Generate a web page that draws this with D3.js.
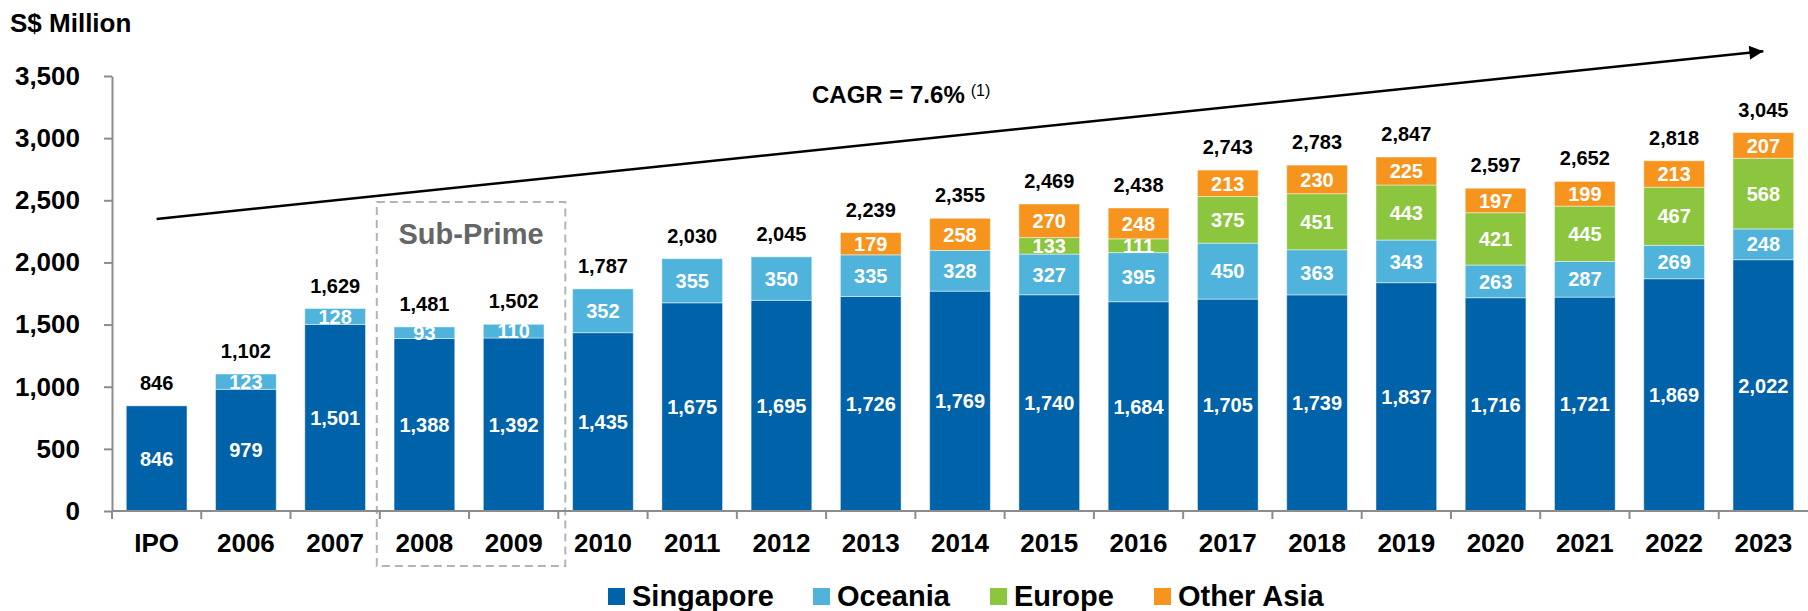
<!DOCTYPE html>
<html>
<head>
<meta charset="utf-8">
<script src="https://cdn.jsdelivr.net/npm/d3@7"></script>
<style>
  body { margin: 0; background: #fff; }
  svg { display: block; font-family: "Liberation Sans", Arial, sans-serif; font-weight: bold; }
</style>
</head>
<body>
<div id="chart"></div>
<script>
// data
var categories = ["IPO", "2006", "2007", "2008", "2009", "2010", "2011", "2012", "2013", "2014",
    "2015", "2016", "2017", "2018", "2019", "2020", "2021", "2022", "2023"];
var singapore = [846, 979, 1501, 1388, 1392, 1435, 1675, 1695, 1726, 1769, 1740, 1684, 1705, 1739, 1837, 1716, 1721, 1869, 2022];
var oceania = [0, 123, 128, 93, 110, 352, 355, 350, 335, 328, 327, 395, 450, 363, 343, 263, 287, 269, 248];
var europe = [0, 0, 0, 0, 0, 0, 0, 0, 0, 0, 133, 111, 375, 451, 443, 421, 445, 467, 568];
var otherAsia = [0, 0, 0, 0, 0, 0, 0, 0, 179, 258, 270, 248, 213, 230, 225, 197, 199, 213, 207];
var totals = [846, 1102, 1629, 1481, 1502, 1787, 2030, 2045, 2239, 2355, 2469, 2438, 2743, 2783, 2847, 2597, 2652, 2818, 3045];
var yTicks = [0, 500, 1000, 1500, 2000, 2500, 3000, 3500];
var seriesNames = ["Singapore", "Oceania", "Europe", "Other Asia"];
var subPrime = ["2008", "2009"];
var cagrText = "CAGR = 7.6%";
var cagrNote = "(1)";

var colors = ["#0062a8", "#4fb3dc", "#8cc63f", "#f7941d"];

var W = 1808, H = 611;
var margin = { top: 76, right: 0, bottom: 100, left: 112 };

var svg = d3.select("#chart").append("svg")
    .attr("width", W)
    .attr("height", H);

var x = d3.scaleBand()
    .domain(categories)
    .range([margin.left, W - margin.right])
    .paddingInner(0.32)
    .paddingOuter(0.16);

var y = d3.scaleLinear()
    .domain([0, 3500])
    .range([H - margin.bottom, margin.top]);

var fmt = d3.format(",");

var rows = categories.map(function (c, i) {
    return { cat: c, Singapore: singapore[i], Oceania: oceania[i], Europe: europe[i], "Other Asia": otherAsia[i], total: totals[i] };
});
var stack = d3.stack().keys(seriesNames)(rows);

// sub-prime box, behind the bars
var boxX0 = x(subPrime[0]) - x.step() * x.paddingInner() / 2 - 3;
var boxX1 = x(subPrime[1]) + x.bandwidth() + x.step() * x.paddingInner() / 2 + 7;
svg.append("rect")
    .attr("x", boxX0)
    .attr("y", 202)
    .attr("width", boxX1 - boxX0)
    .attr("height", 364)
    .attr("fill", "none")
    .attr("stroke", "#b4b4b4")
    .attr("stroke-width", 2)
    .attr("stroke-dasharray", "8,5");

svg.append("text")
    .attr("x", (boxX0 + boxX1) / 2)
    .attr("y", 244)
    .attr("text-anchor", "middle")
    .attr("font-size", 29)
    .attr("fill", "#666")
    .text("Sub-Prime");

// bars
var layers = svg.selectAll("g.layer")
    .data(stack)
    .enter().append("g")
    .attr("class", "layer")
    .attr("fill", function (d, i) { return colors[i]; });

layers.selectAll("rect")
    .data(function (d) { return d.filter(function (s) { return s[1] - s[0] > 0; }); })
    .enter().append("rect")
    .attr("x", function (d) { return x(d.data.cat); })
    .attr("y", function (d) { return y(d[1]); })
    .attr("width", x.bandwidth())
    .attr("height", function (d) { return y(d[0]) - y(d[1]); })
    .attr("stroke", "#fff")
    .attr("stroke-opacity", 0.45)
    .attr("stroke-width", 1);

// segment labels
layers.selectAll("text")
    .data(function (d) { return d.filter(function (s) { return s[1] - s[0] > 0; }); })
    .enter().append("text")
    .attr("x", function (d) { return x(d.data.cat) + x.bandwidth() / 2; })
    .attr("y", function (d) { return (y(d[0]) + y(d[1])) / 2; })
    .attr("dy", "0.36em")
    .attr("text-anchor", "middle")
    .attr("font-size", 20)
    .attr("fill", "#fff")
    .text(function (d) { return fmt(d[1] - d[0]); });

// totals
svg.selectAll("text.total")
    .data(rows)
    .enter().append("text")
    .attr("class", "total")
    .attr("x", function (d) { return x(d.cat) + x.bandwidth() / 2; })
    .attr("y", function (d) { return y(d.total) - 16; })
    .attr("text-anchor", "middle")
    .attr("font-size", 20)
    .attr("fill", "#000")
    .text(function (d) { return fmt(d.total); });

// y axis
var yAxis = svg.append("g")
    .attr("transform", "translate(" + margin.left + ",0)")
    .call(d3.axisLeft(y).tickValues(yTicks).tickFormat(fmt).tickSize(8).tickSizeOuter(0).tickPadding(24));
yAxis.select(".domain").attr("stroke", "#8c8c8c").attr("stroke-width", 2);
yAxis.selectAll(".tick line").attr("stroke", "#8c8c8c").attr("stroke-width", 2);
yAxis.selectAll(".tick text")
    .attr("font-size", 26)
    .attr("font-family", null)
    .attr("fill", "#000");

// x axis with ticks between bands
var xAxisG = svg.append("g")
    .attr("transform", "translate(0," + y(0) + ")");
xAxisG.append("line")
    .attr("x1", margin.left)
    .attr("x2", W)
    .attr("stroke", "#8c8c8c")
    .attr("stroke-width", 2);
var half = x.step() * x.paddingInner() / 2;
xAxisG.selectAll("line.tk")
    .data(categories)
    .enter().append("line")
    .attr("class", "tk")
    .attr("x1", function (d) { return x(d) - half; })
    .attr("x2", function (d) { return x(d) - half; })
    .attr("y1", 0)
    .attr("y2", 8)
    .attr("stroke", "#8c8c8c")
    .attr("stroke-width", 2);
xAxisG.selectAll("text")
    .data(categories)
    .enter().append("text")
    .attr("x", function (d) { return x(d) + x.bandwidth() / 2; })
    .attr("y", 41)
    .attr("text-anchor", "middle")
    .attr("font-size", 26)
    .attr("fill", "#000")
    .text(function (d) { return d; });

// unit title
svg.append("text")
    .attr("x", 10)
    .attr("y", 32)
    .attr("font-size", 26)
    .attr("fill", "#000")
    .text("S$ Million");

// CAGR arrow
svg.append("defs").append("marker")
    .attr("id", "arrow")
    .attr("viewBox", "0 0 10 10")
    .attr("refX", 10)
    .attr("refY", 5)
    .attr("markerWidth", 6.5)
    .attr("markerHeight", 5.6)
    .attr("orient", "auto")
    .attr("markerUnits", "strokeWidth")
    .append("path")
    .attr("d", "M0,0 L10,5 L0,10 Z")
    .attr("fill", "#000");

var arrowStart = [x("IPO") + x.bandwidth() / 2, y(2350)];
var arrowEnd = [x("2023") + x.bandwidth() / 2, y(3700)];
svg.append("line")
    .attr("x1", arrowStart[0])
    .attr("y1", arrowStart[1])
    .attr("x2", arrowEnd[0])
    .attr("y2", arrowEnd[1])
    .attr("stroke", "#000")
    .attr("stroke-width", 2.5)
    .attr("marker-end", "url(#arrow)");

var cagr = svg.append("text")
    .attr("x", 812)
    .attr("y", 103)
    .attr("font-size", 24)
    .attr("fill", "#000");
cagr.append("tspan").text(cagrText);
cagr.append("tspan")
    .attr("dx", 6)
    .attr("dy", -7)
    .attr("font-size", 16)
    .attr("font-weight", "normal")
    .text(cagrNote);

// legend
var legendX = [608, 813, 990, 1154];
var legend = svg.selectAll("g.legend")
    .data(seriesNames)
    .enter().append("g")
    .attr("class", "legend")
    .attr("transform", function (d, i) { return "translate(" + legendX[i] + ",588)"; });
legend.append("rect")
    .attr("width", 17)
    .attr("height", 17)
    .attr("fill", function (d, i) { return colors[i]; });
legend.append("text")
    .attr("x", 24)
    .attr("y", 18)
    .attr("font-size", 29)
    .attr("fill", "#000")
    .text(function (d) { return d; });
</script>
</body>
</html>
